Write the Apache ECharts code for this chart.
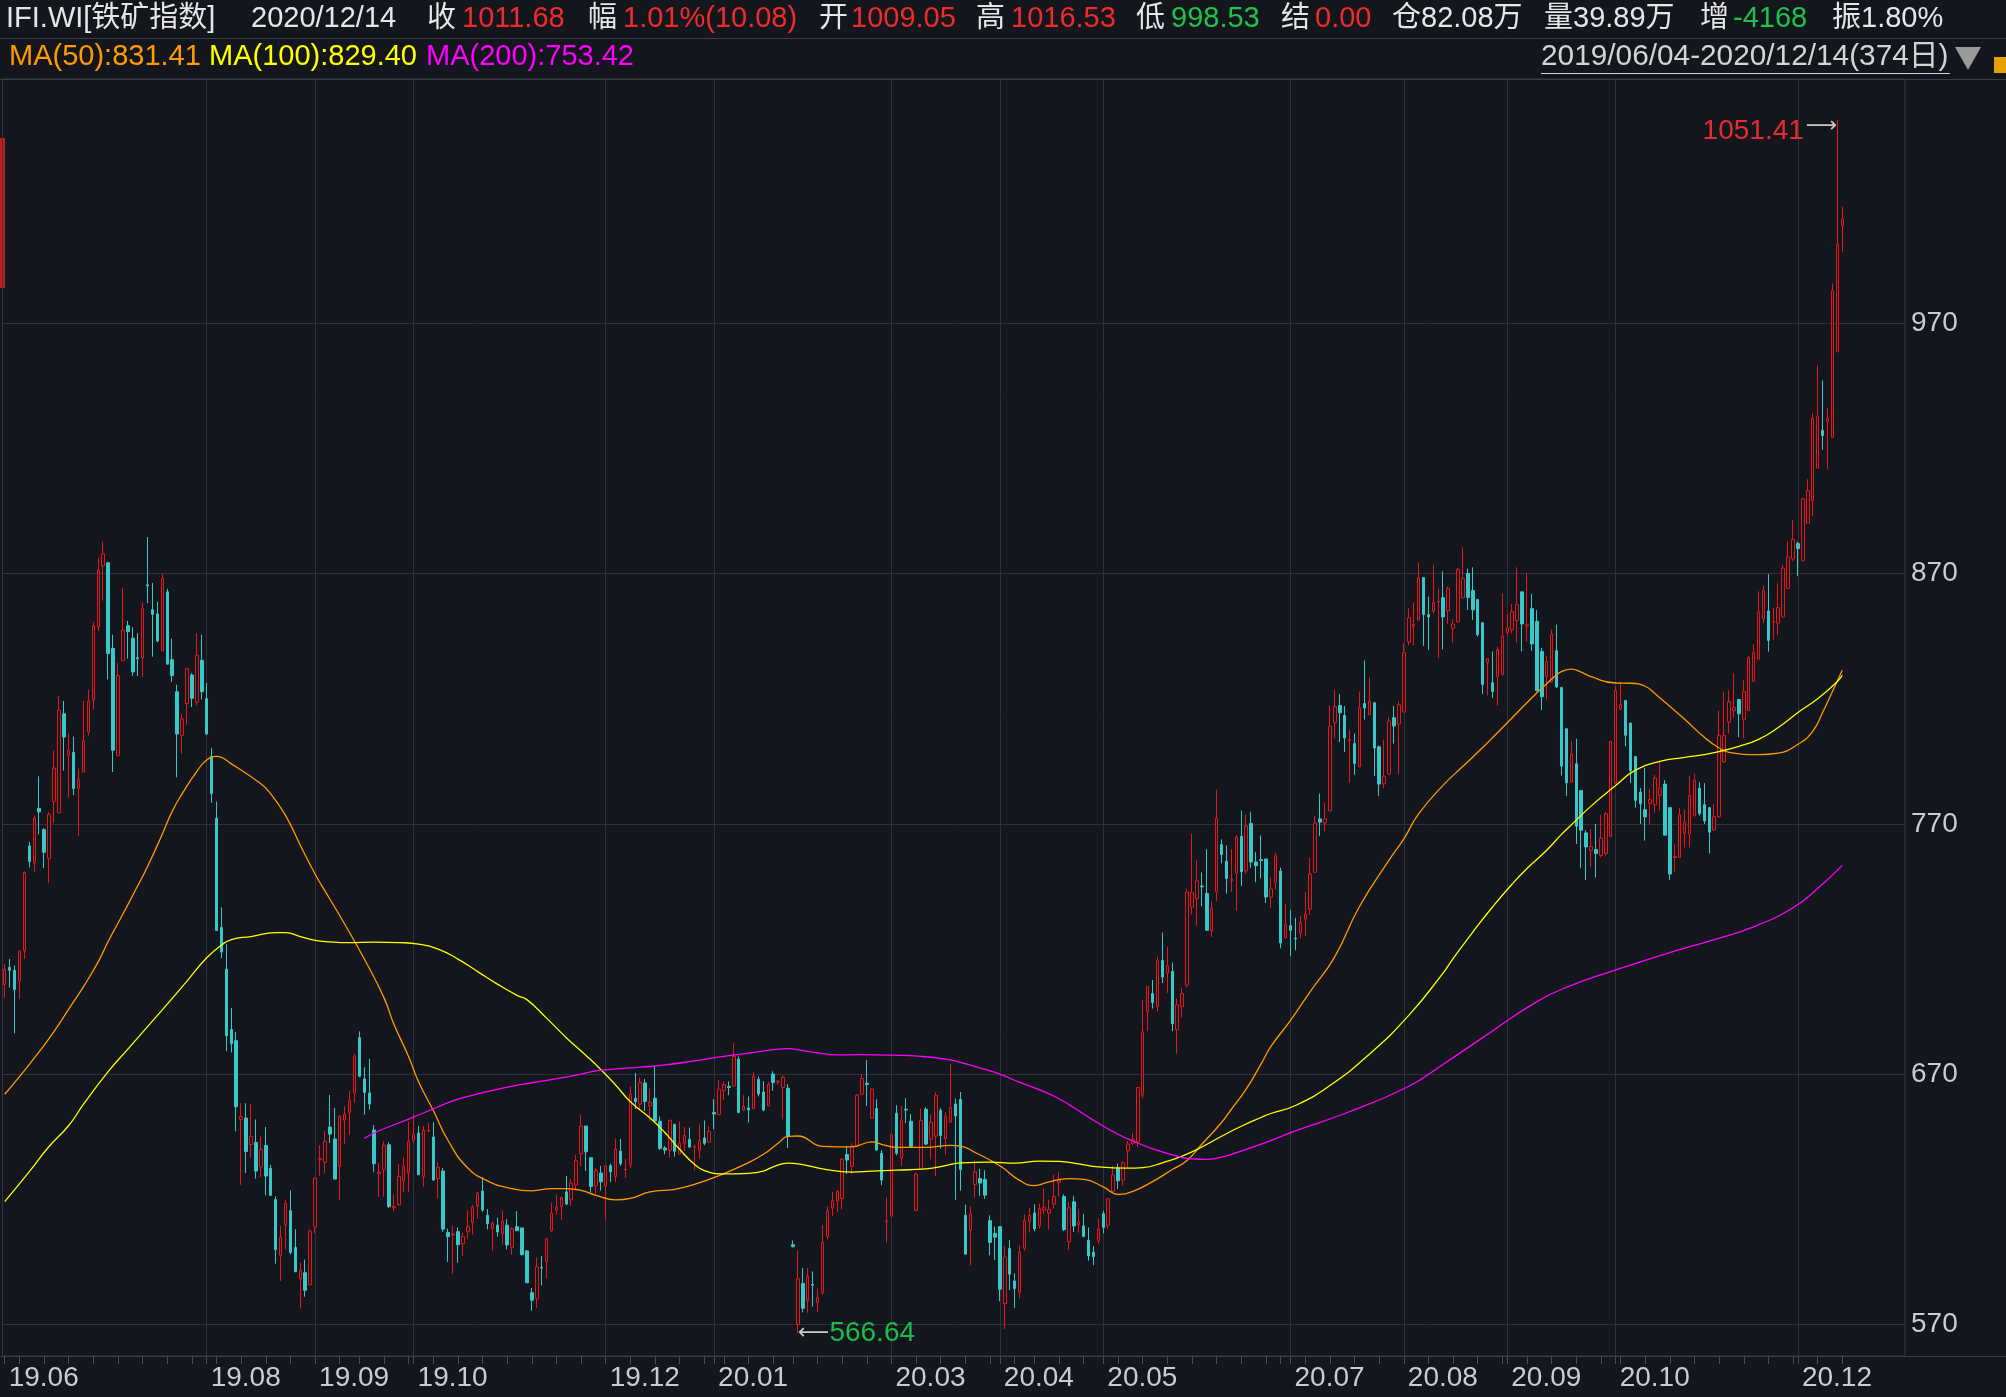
<!DOCTYPE html>
<html><head><meta charset="utf-8">
<script src="https://cdn.jsdelivr.net/npm/echarts@6/dist/echarts.min.js"></script>
<style>html,body{margin:0;padding:0;background:#13161c;overflow:hidden;}#c{width:2006px;height:1397px;}</style>
</head><body><div id="c"></div>
<script>
// ---------------- data ----------------
const holidays = ['2019-06-07','2019-09-13','2019-10-01','2019-10-02','2019-10-03','2019-10-04','2019-10-07',
  '2020-01-01','2020-01-24','2020-01-27','2020-01-28','2020-01-29','2020-01-30','2020-01-31','2020-04-06',
  '2020-05-01','2020-05-04','2020-05-05','2020-06-25','2020-06-26',
  '2020-10-01','2020-10-02','2020-10-05','2020-10-06','2020-10-07','2020-10-08'];
const tickLabels = ['19.06','19.08','19.09','19.10','19.12','20.01','20.03','20.04','20.05','20.07','20.08','20.09','20.10','20.12'];
const yTicks = [570,670,770,870,970];

const openVals = [
705.8,712.7,711.5,707.2,719.4,761.2,754.4,776.2,767.7,756.1,
779,774.4,814,797.4,798.6,784.3,790.7,806.7,819.5,848.6,
873,874.3,840.1,797.2,835.2,849.2,844.2,836.4,836.4,865.5,
855.6,853.9,839.1,862.7,835.6,822.8,805.3,818.1,829.5,818.7,
835.4,820,797,772.3,728.6,711.9,687.9,683.4,651.9,652.5,
641.9,642.7,632.9,641.5,632.4,619.9,597.6,609.8,615.5,600.8,
588.2,590.7,585.8,609,635.8,634.8,648.9,644.1,633.2,651.6,
654.8,662.4,684.6,668.1,662.5,647.7,630.3,631.8,641.8,616.6,
617.9,627.4,630.7,643.6,646.5,629.1,647.3,644.9,628.3,631.3,
606.8,605.8,607.1,602.3,607.1,610.7,617.4,623.3,613.7,608.3,
609.7,606.2,609.7,600.7,609.1,608.6,599.4,582.7,580.3,592.8,
595.2,607.5,615.8,617.1,623,619.8,625.7,638.2,649.3,636.6,
625.4,630.5,625.4,633.4,629.1,639.3,631.8,633.7,660.3,658,
666.5,657.3,660.4,651.2,640.5,639.7,650,638.1,642.4,644,
640.8,639.7,644.5,642.9,654.7,653.9,663.5,665.1,665.3,676,
655.7,656.5,656.3,668,662.9,657.3,670.1,666.9,664.7,664.4,
601.9,570,586.4,579.6,586,578.7,582.7,605.1,616.5,619.3,
620.3,637.9,633.1,641.6,662,666.4,652.5,656.3,638.4,610.9,
613.3,654.4,636.5,656,651.2,615.5,632,656,644,645.3,
655.5,644.3,650.9,658.1,659.9,613.6,607.6,625.9,628.3,628,
611.5,606.4,609.1,578.4,600.4,587.4,583,600.4,611.2,614.5,
609.4,615.7,614.5,618.1,626.8,621.1,603,619,609.9,609.4,
603.7,598.9,603.4,614.2,609.7,623.2,632.5,627.7,639.4,642.4,
643,661.7,695,702.2,697.1,715.5,710.3,711.1,687.8,697.1,
705.5,736.8,740.1,745.2,742.2,727.2,742.8,761.7,755.1,747.3,
750.3,765,751.2,770.2,754.8,755.7,756,740.8,746.7,751.2,
724.5,729.3,724.3,726.4,732,736,750.7,772,770.4,775.2,
810.4,817.3,813.3,803.3,802.1,792.8,818.1,813.6,818.4,800.8,
786,789.9,812.4,809.9,814.7,842.7,849.1,851.5,868.4,853.6,
854.9,858.7,860.4,855.2,848,850.7,860.3,870.1,863.2,859.7,
850.4,834.4,826.4,828.8,829.6,846.4,847.5,851.2,862.7,849.1,
856,850.9,838.9,828.8,826.7,839.2,824.5,808,786.7,794,
783.3,766.4,759.4,759.8,757.4,758.2,765.1,786.3,816,819.3,
810.3,796.9,782.7,775.7,778.1,777.7,781.4,785.9,776.5,756.6,
756.6,766.3,765.9,773.3,784.3,777.7,776.5,767.6,772.9,794.8,
810.7,815.2,819.7,811.6,815.2,827,835.9,851.9,855.1,850.6,
850.2,852.7,864.1,875.9,882,875.1,890.2,899.1,912.2,927.2,
930.9,924.4,958.6,1009.05];

const closeVals = [
711.9,711.5,703.8,719.2,750.6,755,772.3,774.8,758.7,773.8,
792.3,815.5,804.7,799.4,784.1,788,803.1,819.1,849.2,871.4,
877.9,838.1,799.4,829.3,847.4,846.8,830.7,836,856.2,865.1,
853.7,843.1,868,833.8,829.3,805.9,812,832,820.2,837.4,
822.8,805.9,782.1,727.4,718.8,685.3,682.2,657,653,639.1,
645.2,631.3,639.9,629.3,621.6,600,604.9,618.3,598.8,591.1,
591.7,583.7,607.3,628.5,636.3,643.2,646.1,628.1,653.2,654,
659.6,677.2,669.2,662.7,658.1,634.2,630.9,641.7,617.1,617.1,
629.1,633.2,643.2,646,629.8,647.6,647.6,627.7,632.8,608.1,
605.1,606.1,601.9,605.1,609.1,616.9,622.5,615.7,610.3,610.5,
607,611.3,601.8,608.3,607.5,597.9,586.7,579.7,593,592.6,
604.3,614.5,616.9,620.7,618.1,626.5,635.6,649.3,639,625.1,
631.5,627,633.4,631,640,634.2,632.1,662,659.1,666.8,
659.1,658.7,651.3,640.4,639.7,651.6,639.2,642.4,645.5,640.9,
641.2,643.5,642.4,647.1,654.1,664,665.9,664.7,677.1,654.7,
657.1,655.7,669.1,662.1,655.7,666,666.7,667.2,668.8,645.1,
601.1,588.3,576.5,589.2,585.7,580.8,602.7,615.5,619.5,623.2,
636,635.7,641.3,661.6,668.3,665.9,664,639.7,627.7,611.5,
645.9,638.4,651.5,655.7,641.1,630,651.5,642.1,650.7,661.6,
645.5,653,656.7,653.3,631.9,598.1,614.2,631,626.5,621.7,
602.8,604.9,584.1,597,590.1,584.4,598.9,611.5,613.6,608.2,
616.3,616.9,616,621.1,627.7,607.9,616.6,609.4,610.8,605.2,
597.4,597.1,608.2,608.8,620.2,629.8,627.4,634.6,642.1,643.9,
664.7,686.9,705,698.6,715.5,708.8,713.3,690.2,697.7,702.2,
742.8,742.5,747.3,744.9,727.5,736.2,772.3,757.8,748.2,747.9,
764.7,750.9,769.2,754.8,753.3,755.4,740.8,744,757.3,722.4,
729.9,727.5,724,730.7,733.9,749.9,770.4,770.7,772,809.1,
816.8,814.4,804.3,803.7,794.1,816.4,816.3,819.1,800.3,785.9,
789.1,811.1,809.1,817.6,838.4,852.4,849.7,868.4,853.6,852.7,
858.4,858.9,852.7,864,849.9,871.7,868,860.5,855.5,845.6,
825.7,836,822.9,839.7,845.1,848.4,854.9,857.6,849.9,849.6,
841.9,823.2,820.8,834.9,845.9,824.7,793.1,786.4,797.9,769.1,
767.5,760.8,761,758.2,764.3,774.1,803,823.4,817.7,805.4,
791.2,779.4,778.1,772.8,779.8,788.3,784.3,765.5,750,757,
773.7,770.8,781.4,787.5,774.1,771.2,766.7,772.9,805.4,805.4,
818.9,816.4,814,823,836.4,838.4,854.7,863.3,843.3,850.8,
856.4,872.2,876.7,883.6,880,899.9,903.2,932.1,932.9,925.2,
932.1,983,1001.6,1011.68];

const lowVals = [
700.5,704.6,686.3,700,716,752.6,751,765.8,752.4,746.3,
770.3,774.4,791.3,780.5,781.5,765.2,790.7,805.3,815.7,847,
859.2,827.7,790.7,797.2,835.2,836,829.1,829.1,828.7,858.2,
836.8,842.5,839.1,833.8,826.7,788.6,798.2,809.6,816.7,817.3,
819.7,805.5,778.4,727.4,716.4,679.2,678.7,647.2,625.8,630.5,
636.6,628.3,628.9,621.6,621.6,594.3,587.4,600,598,590.9,
576.4,581.1,585.8,606.5,629.5,630.5,642.5,628.1,619.8,642.2,
645.7,658.5,668.8,653.8,655.8,631,620.9,621.1,616.6,615.1,
617.4,623,623,642.4,629.8,625,646.9,627.4,620.3,607,
595,590.3,594.7,597.4,604.3,605.9,612.3,615,608,599.5,
605.1,601.9,600,597.9,607.3,597.6,586.7,575.5,576.5,585.6,
588.3,607,613.9,611.8,617.7,617.4,623.5,633.2,631.4,622.7,
622.1,623.5,611.8,627,627,633.4,628.6,632.4,656.1,655.8,
655.3,651.3,651.3,639.7,638,636.7,637.1,638.1,639.3,640.5,
631.7,636.3,641.6,642.7,648,653.9,659.7,661.6,665.3,654.4,
655.2,650.7,656,661.1,655.2,657.1,663.3,665.9,652,640.5,
600.8,566.64,574.9,574.7,577.1,574.9,581.9,604,613.3,614.9,
616,630.1,630.1,641.3,661.6,657.3,652.5,639.5,625.6,602.7,
613.3,637.6,633.3,650.4,640.8,615.2,632,641.6,636,629.3,
640.3,637.8,650.6,619.8,623.5,598.1,593.7,620.6,621.4,620.2,
597.6,595.8,579.3,568.2,583.8,576.6,580.5,599.5,606.7,607.3,
608.2,613.9,607.9,616.3,621.1,607.3,599.8,607,606.7,604.9,
595.5,593.7,602.2,606.4,608.2,622.9,624.1,625.6,632.5,641.5,
640.9,660.5,687.2,696.2,695,706.4,702.5,687.2,678.2,692.6,
704.6,733.8,729.3,737.1,727.2,724.8,739.2,754.2,742.2,742.8,
735.3,745.2,750,752.4,746.7,748.2,738.4,736.5,743.7,720.3,
724.3,717.1,719.5,724.3,725.1,733.6,750.7,765.1,767.1,775.2,
804.3,802.7,798.7,786.4,789.6,792.8,811.7,813.6,789.1,781.1,
784.3,789.9,802.1,789.9,814.7,841.3,841.3,851.5,841.1,839.5,
854.1,836.3,839.7,849.9,842.4,850.4,860.3,855.5,851.5,844.8,
821.9,821.3,820.3,817.3,829.6,845.1,845.9,842.4,838.9,842.7,
839.2,822.9,815.5,819.7,826.4,824.3,789.3,781.1,786.4,762,
752.3,747.5,752.7,748.6,756.6,757.4,764.7,785.9,815.2,801,
786.3,776.5,770,763.3,770,774.5,775.3,765.5,747.6,750.9,
756.6,760.6,760.6,772.9,773.3,770,758.2,767.2,772.5,794.4,
806.2,812.4,804.6,804.2,815.2,826.6,835.6,850.2,838.8,843.7,
845.4,852.7,863.7,875.1,869,875.1,890.2,893,912.2,919.5,
911.8,924.4,958.6,998.53];

const highVals = [
714,716,713.5,719.5,751,762.8,773.4,789,768.3,774.8,
799.2,821.2,819.1,806.3,804.9,792.1,819.1,823.6,850.7,876.5,
882.8,874.7,845.6,834.2,864.3,851.1,848.6,846.2,858.4,884.6,
866.3,858.8,870,863.9,844,825.6,814,832.4,830.3,846.2,
845.6,826.3,800.4,778.9,736.7,721.9,696.5,686.9,658.4,658.4,
658,651.9,645.2,648.9,633.8,621.2,609.4,619.9,623.6,608.1,
594.7,595.9,608.1,628.5,641.7,647.3,661.7,656.5,653.7,657.2,
663.3,678.1,687.1,672.8,676.1,649.7,634.5,643.3,642.8,622.1,
634.1,636.9,651,654.1,649.2,649.2,650.5,650.8,634.8,632.5,
608.3,609.4,608.8,606.7,615.7,617.7,623,628.7,616.1,611.3,
612.7,615.5,612.1,608.8,615.3,608.6,599.8,584.6,596.8,597.4,
604.6,618.5,621.9,621.3,629.4,628.1,637.7,653.7,649.3,636.9,
632.4,633.4,633.4,634.2,644.1,644.1,636.1,665.2,670.5,668.7,
668.1,664.3,673.1,653.1,641.3,651.6,650,651.2,648.9,648.7,
641.9,649.9,651.5,649.3,660,667.6,667.2,667.1,682.4,677.1,
661.6,661.1,670.9,669.1,667.2,666.9,671.2,667.5,669.6,666.1,
603.6,599.6,592.5,592.5,591.2,584.5,609.7,617.1,622.9,623.7,
636.5,641.3,642.4,661.9,670.1,675.7,664.3,660,639.7,620.8,
645.9,657.6,657.3,660.4,654,630.7,656.3,656.8,653.9,662.9,
656.5,654.7,674,660.3,662.9,617.9,617.2,635.5,632.2,631.6,
613.6,609.1,609.1,601.3,603.7,590.4,601.6,613.9,616.6,618.1,
618.4,624.4,619.9,629.8,631,622,619,621.4,616.3,614.2,
608.8,601.3,612.4,615.4,620.5,633.4,634.3,635.2,643.3,646.6,
664.7,699.8,705,707.6,717,726.6,720.9,714.6,700.1,704.6,
744.2,766.1,755.4,750.6,759.9,739.2,783.7,763.8,761.4,759.9,
765.6,775.3,773.8,774.7,758.7,765.3,756,748.5,758.4,752.5,
737.9,735.7,732.5,733.3,742.9,756.5,773.3,782.1,778.4,817.3,
823.5,821.9,817.1,807.5,806.1,822.9,835.3,828.5,818.7,801.3,
803.7,812.8,817.1,818.9,842.1,856.1,858.4,874.4,868.4,860.8,
873.6,864,870.9,864.8,851.7,872.3,880.5,872,872.5,859.7,
850.4,836,838.9,840.8,862.1,853.9,857.9,872.5,862.7,870.4,
861.9,855.5,840.3,837.1,847.7,849.6,824.5,808,803.2,804,
783.3,767.5,768,770,773.7,774.9,803,825,826.6,819.3,
810.3,796.9,784.3,792.4,783.9,789.6,795.3,787.5,776.5,761.9,
776.5,775.7,789.2,790,786.7,786.3,776.5,778.1,815.2,822.8,
823.4,830.3,819.7,827.4,837.2,841.7,862.9,865.3,869.8,856.4,
866.1,873.5,882.8,891.4,882.8,900.3,907.7,934.2,953.3,947.2,
936.2,985.9,1051.41,1016.53];

// moving averages: [tradingDayIndex, value]
const ma50Pts = [[0,662],[3,669],[7,679],[10,687],[13,696],[16,705],[19,715],[21,723],[24,734],[26,741.5],
 [29,753],[32,766],[34,775],[36,782],[39,791],[41,795.5],[43,797],[46,794],[52,786],[54,782],[57,773.4],[60,761.5],
 [63,750],[66,740],[69,730],[73,716],[77,700.5],[79,690],[82,677],[84,667],[87,655.5],[90,643.5],[94,632.5],
 [98,627.4],[102,624.7],[107,623.4],[111,624.3],[114,624.3],[117,623.6],[120,621.6],[124,619.8],[127,620.4],[131,623],
 [136,624],[140,626],[145,629.5],[151,634.7],[154,638],[157,642.4],[159,645.2],[161,645.3],[166,641.2],[172,641],
 [176,643],[178,642],[181,640.8],[187,640.8],[192,641.6],[194,641.3],[197,638.7],[202,633.4],[206,627.6],[209,625.5],
 [212,627],[216,628.3],[219,628],[223,625],[226,622],[229,623.2],[233,627.1],[237,631.9],[240,635.5],[243,642],
 [247,650.7],[249,656],[252,664],[255,674],[257,681],[261,691.5],[265,703],[270,717],[275,737],[281,755.5],
 [284,764],[287,774],[292,785.5],[296,793],[300,800.5],[302,804.4],[306,812.4],[310,820.4],[313,826],[315,829.5],
 [316,830.8],[318,831.8],[320,830.6],[322,828.8],[327,826.3],[330,826.2],[333,825],[335,822],[341,811.8],[345,804.6],
 [348,800.3],[350,798.6],[356,797.7],[360,798.3],[364,801.8],[367,807],[369,814.5],[371,822.9],[373,831.41]];
const ma100Pts = [[0,619.1],[5,631.1],[9,641.1],[13,649.5],[16,658],[21,671],[25,680],[29,689],[33,698],[37,707.2],
 [41,716.5],[44,721.6],[46,723.8],[50,725],[55,726.6],[57,726.6],[60,725],[63,723.5],[66,722.9],[70,722.6],[75,722.8],
 [80,722.6],[84,722],[88,720],[92,716],[96,711],[100,706],[104,701.5],[106,699.8],[110,692.4],[114,684.6],[118,677.5],
 [121,671.9],[124,665.7],[127,659],[131,652.5],[134,646.7],[137,640],[140,634],[142,631.5],[146,630.2],[151,630.4],
 [154,631.3],[156,633],[159,634.5],[162,633.9],[166,632.2],[172,630.9],[176,631.3],[181,631.7],[187,632.2],[191,633.5],
 [194,634.6],[200,634.9],[205,634.5],[210,635.3],[214,635.2],[218,634.2],[222,633],[228,632.5],[231,632.7],[235,634.6],
 [239,637.3],[243,640.9],[247,645.2],[251,649.2],[255,652.7],[257,654.3],[262,657.5],[269,665.5],[277,678],[285,693.5],
 [292,710.5],[294,716.2],[298,726.8],[302,736.8],[306,746],[309,752.2],[313,759.5],[316,765.8],[319,771.5],[322,777.1],
 [327,785.3],[331,791.5],[336,795],[341,796.6],[345,797.7],[348,798.9],[352,801],[356,803.8],[360,808.5],[364,814.5],
 [368,820],[372,826.9],[373,829.40]];
const ma200Pts = [[73,644.4],[76,647.4],[80,650.5],[84,653.7],[88,657],[92,660],[97,662.6],[101,664.4],[105,665.9],
 [109,667.2],[113,668.5],[117,670],[120,671.3],[125,672.2],[129,672.8],[134,673.7],[140,675.3],[146,677.1],[151,678.4],
 [156,679.8],[159,680.2],[162,679.4],[165,678.5],[169,677.7],[174,677.8],[180,677.6],[186,677.1],[191,676],[194,674.7],
 [199,671.9],[202,670],[206,666.8],[210,663.8],[214,660.2],[218,655.4],[222,650.4],[226,646],[229,643.3],[233,640.2],
 [237,637.8],[241,636.2],[244,636],[248,637.4],[252,640],[257,643.5],[262,647.4],[272,654.3],[285,665.2],[292,674],
 [300,684.6],[311,699],[318,705.5],[326,711],[337,718],[347,723.8],[355,728.9],[363,736.5],[368,744.2],[373,753.42]];

// ---------------- categories (trading days) ----------------
const dates = [];
for (let t = Date.UTC(2019,5,4); t <= Date.UTC(2020,11,14); t += 86400000) {
  const dt = new Date(t), wd = dt.getUTCDay(), s = dt.toISOString().slice(0,10);
  if (wd !== 0 && wd !== 6 && holidays.indexOf(s) < 0) dates.push(s);
}
[openVals, closeVals, lowVals, highVals].forEach((a, k) => {
  if (a.length !== dates.length) throw new Error('length mismatch ' + k + ': ' + a.length + ' vs ' + dates.length);
});
const ym = s => s.slice(2,4) + '.' + s.slice(5,7);
const labelSet = new Set();
tickLabels.forEach(l => { const i = dates.findIndex(d => ym(d) === l); if (i >= 0) labelSet.add(i); });
const tickSet = new Set(labelSet);
let prevWeek = null;
dates.forEach((d, i) => {
  const day = Math.floor(Date.parse(d) / 86400000);
  const wk = Math.floor((day + 3) / 7);
  if (wk !== prevWeek) tickSet.add(i);
  prevWeek = wk;
});
const candleData = openVals.map((o, i) => [o, closeVals[i], lowVals[i], highVals[i]]);
const last = candleData.length - 1;

// ---------------- layout ----------------
const BG = '#13161c';
const FONT = '"Liberation Sans", "Noto Sans CJK SC", sans-serif';
const RED = '#f12b2b', GREEN = '#1fc24a', WHITE = '#e6e6e6';
const UPC = '#e8141a', DNC = '#37c8c9';
const PLOT_TOP = 79, PLOT_BOTTOM = 1356;
const Y_MAX = 970 + (323.3 - PLOT_TOP) / 2.503;
const Y_MIN = 970 - (PLOT_BOTTOM - 323.3) / 2.503;
const STEP = 4.9265, X0 = 4.7;

function txt(x, y, text, color, size) {
  return { type: 'text', x: x, y: y, silent: true,
    style: { text: text, fill: color, font: (size || 29) + 'px ' + FONT,
             textVerticalAlign: 'middle', verticalAlign: 'middle', textAlign: 'left', align: 'left' } };
}
function hline(y, x1, x2, color) {
  return { type: 'line', silent: true, shape: { x1: x1, y1: y, x2: x2, y2: y },
    style: { stroke: color || '#3a3d43', lineWidth: 1 } };
}
const o = openVals[last].toFixed(2), c = closeVals[last].toFixed(2);
const h = highVals[last].toFixed(2), l = lowVals[last].toFixed(2);
const chg = closeVals[last] - closeVals[last - 1];
const pct = (chg / closeVals[last - 1] * 100).toFixed(2) + '%(' + chg.toFixed(2) + ')';
const Y1 = 19, Y2 = 57;
const graphics = [
  hline(38.5, 0, 2006), hline(79.5, 0, 2006), hline(1356.5, 0, 2006),
  { type: 'rect', silent: true, shape: { x: 0, y: 138, width: 5, height: 150 }, style: { fill: '#c41c1c' } },
  txt(6, Y1, 'IFI.WI[铁矿指数]', WHITE), txt(251, Y1, '2020/12/14', WHITE),
  txt(427, Y1, '收', WHITE), txt(462, Y1, c, RED),
  txt(588, Y1, '幅', WHITE), txt(623, Y1, pct, RED),
  txt(819, Y1, '开', WHITE), txt(851, Y1, o, RED),
  txt(976, Y1, '高', WHITE), txt(1011, Y1, h, RED),
  txt(1136, Y1, '低', WHITE), txt(1171, Y1, l, GREEN),
  txt(1281, Y1, '结', WHITE), txt(1315, Y1, '0.00', RED),
  txt(1392, Y1, '仓82.08万', WHITE), txt(1544, Y1, '量39.89万', WHITE),
  txt(1700, Y1, '增', WHITE), txt(1733, Y1, '-4168', GREEN),
  txt(1832, Y1, '振1.80%', WHITE),
  txt(9, Y2, 'MA(50):' + ma50Pts[ma50Pts.length - 1][1].toFixed(2), '#ff9a00'),
  txt(209, Y2, 'MA(100):' + ma100Pts[ma100Pts.length - 1][1].toFixed(2), '#ffff00'),
  txt(426, Y2, 'MA(200):' + ma200Pts[ma200Pts.length - 1][1].toFixed(2), '#ff00ff'),
  txt(1541, Y2, dates[0].replace(/-/g, '/') + '-' + dates[last].replace(/-/g, '/') + '(' + dates.length + '日)', '#d4d4d4', 29.8),
  hline(73.5, 1541, 1950, '#d4d4d4'),
  { type: 'polygon', silent: true, shape: { points: [[1955, 47], [1981, 47], [1968, 70]] }, style: { fill: '#9a9a9a' } },
  { type: 'rect', silent: true, shape: { x: 1994, y: 57, width: 12, height: 16 }, style: { fill: '#e5a100' } }
];

const chart = echarts.init(document.getElementById('c'));
chart.setOption({
  backgroundColor: BG,
  animation: false,
  grid: [
    { left: X0, width: STEP * last, top: PLOT_TOP, height: PLOT_BOTTOM - PLOT_TOP },
    { left: 2.5, width: 1902.5, top: PLOT_TOP, height: PLOT_BOTTOM - PLOT_TOP, show: true,
      borderColor: '#34373c', borderWidth: 1, backgroundColor: 'transparent' }
  ],
  xAxis: [
    { type: 'category', gridIndex: 0, data: dates, boundaryGap: false,
      axisLine: { show: false },
      axisTick: { show: true, length: 8, interval: i => tickSet.has(i), lineStyle: { color: '#4a4d53' } },
      axisLabel: { show: true, interval: i => labelSet.has(i), formatter: v => ym(v), align: 'left',
        padding: [0, 0, 0, 4], margin: 8, color: '#c9ccd2', fontSize: 28, fontFamily: FONT },
      splitLine: { show: true, interval: i => labelSet.has(i) && i > 0, lineStyle: { color: '#2e3136', width: 1 } } },
    { type: 'value', gridIndex: 1, min: 0, max: 1, show: false }
  ],
  yAxis: [
    { type: 'value', gridIndex: 0, min: Y_MIN, max: Y_MAX, show: false, splitLine: { show: false } },
    { type: 'value', gridIndex: 1, position: 'right', min: Y_MIN, max: Y_MAX,
      axisLine: { show: true, lineStyle: { color: '#34373c' } },
      axisTick: { show: true, inside: false, length: 5, customValues: yTicks, lineStyle: { color: '#34373c' } },
      axisLabel: { show: true, customValues: yTicks, margin: 6, color: '#c9ccd2', fontSize: 28, fontFamily: FONT },
      splitLine: { show: true, lineStyle: { color: '#2e3136', width: 1 } } }
  ],
  series: [
    { type: 'candlestick', xAxisIndex: 0, yAxisIndex: 0, data: candleData, barWidth: 3,
      itemStyle: { color: BG, color0: DNC, borderColor: UPC, borderColor0: DNC, borderWidth: 1 },
      markPoint: { symbol: 'circle', symbolSize: 0, animation: false, silent: true,
        data: [
          { type: 'max', valueDim: 'highest',
            label: { show: true, position: 'left', distance: 0, offset: [0, 12],
              formatter: p => '{v|' + Number(p.value).toFixed(2) + '}{a|⟶}',
              rich: { v: { color: '#ec2a30', fontSize: 28, fontFamily: FONT },
                      a: { color: '#c8c8c8', fontSize: 22, fontFamily: '"DejaVu Sans"', padding: [0, 0, 10, 2] } } } },
          { type: 'min', valueDim: 'lowest',
            label: { show: true, position: 'right', distance: 0, offset: [0, 0],
              formatter: p => '{a|⟵}{v|' + Number(p.value).toFixed(2) + '}',
              rich: { v: { color: '#1fb84b', fontSize: 28, fontFamily: FONT },
                      a: { color: '#c8c8c8', fontSize: 22, fontFamily: '"DejaVu Sans"' } } } }
        ] } },
    { type: 'line', xAxisIndex: 0, yAxisIndex: 0, data: ma50Pts, smooth: 0.5, symbol: 'none', silent: true,
      lineStyle: { color: '#ff9900', width: 1.3 }, z: 3 },
    { type: 'line', xAxisIndex: 0, yAxisIndex: 0, data: ma100Pts, smooth: 0.5, symbol: 'none', silent: true,
      lineStyle: { color: '#ffff00', width: 1.3 }, z: 3 },
    { type: 'line', xAxisIndex: 0, yAxisIndex: 0, data: ma200Pts, smooth: 0.5, symbol: 'none', silent: true,
      lineStyle: { color: '#ff00ff', width: 1.3 }, z: 3 }
  ],
  graphic: graphics
});
</script>
</body></html>
